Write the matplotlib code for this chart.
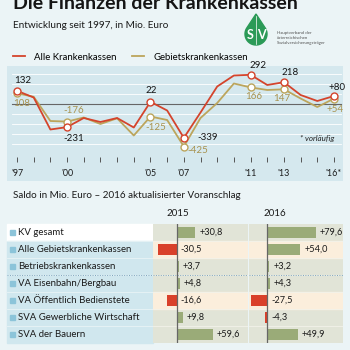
import numpy as np
import matplotlib.pyplot as plt
from matplotlib.patches import Rectangle, Polygon
from matplotlib.lines import Line2D

plt.rcParams['font.family'] = ['Lato', 'DejaVu Sans']

# --- data -----------------------------------------------------------
years = np.arange(1997, 2017)
alle = [132, 65, -255, -231, -140, -180, -140, -235, 22, -65,
        -339, -85, 175, 285, 292, 190, 218, 90, 30, 80]
gebiet = [108, 72, -170, -176, -135, -200, -143, -315, -125, -160,
          -425, -140, 10, 205, 166, 140, 147, 55, -30, 54]
marked_years = [1997, 2000, 2005, 2007, 2011, 2013, 2016]
alle_labels = ['132', '-231', '22', '-339', '292', '218', '+80']
gebiet_labels = ['108', '-176', '-125', '-425', '166', '147', '+54']
tick_years = [1997, 2000, 2005, 2007, 2011, 2013, 2016]
tick_labels = ["'97", "'00", "'05", "'07", "'11", "'13", "'16*"]

traeger = ['KV gesamt', 'Alle Gebietskrankenkassen', 'Betriebskrankenkassen',
           'VA Eisenbahn/Bergbau', 'VA Öffentlich Bedienstete',
           'SVA Gewerbliche Wirtschaft', 'SVA der Bauern']
saldo_2015 = [30.8, -30.5, 3.7, 4.8, -16.6, 9.8, 59.6]
saldo_2016 = [79.6, 54.0, 3.2, 4.3, -27.5, -4.3, 49.9]

RED = '#d4442c'
GOLD = '#bca55c'
GREEN = '#9aab78'
BARRED = '#d9402a'
BG = '#ebf4f6'
PANEL = '#d5e8ee'

W = H = 350
fig = plt.figure(figsize=(3.5, 3.5), dpi=100)
fig.patch.set_facecolor(BG)


def px_axes(x0, y0, x1, y1, **kw):
    return fig.add_axes([x0 / W, 1 - y1 / H, (x1 - x0) / W, (y1 - y0) / H], **kw)


# background / decoration axes in pixel coordinates
bg = px_axes(0, 0, W, H)
bg.set_xlim(0, W)
bg.set_ylim(H, 0)
bg.axis('off')

bg.text(13, 9, 'Die Finanzen der Krankenkassen', fontsize=14,
        fontweight='bold', va='baseline', color='#151515')
bg.text(13, 26, 'Entwicklung seit 1997, in Mio. Euro', fontsize=7.2,
        va='center', color='#1a1a1a')

# logo
cx, cy, r, tip = 256, 34, 11, 14
ang = np.radians(np.linspace(-33.4, 213.4, 60))
pts = [(cx, tip)] + list(zip(cx + r * np.cos(ang), cy + r * np.sin(ang)))
bg.add_patch(Polygon(pts, closed=True, color='#2b9a57'))
bg.plot([cx, cx], [tip + 2, cy + r - 1], color='white', lw=0.5)
bg.text(cx - 5.5, cy + 1, 'S', color='white', fontsize=9, fontweight='bold',
        ha='center', va='center')
bg.text(cx + 5.5, cy + 1, 'V', color='white', fontsize=9, fontweight='bold',
        ha='center', va='center')
for k, t in enumerate(['Hauptverband der', 'österreichischen',
                       'Sozialversicherungsträger']):
    bg.text(277, 33 + 4.8 * k, t, fontsize=3.2, color='#555', va='center')

# --- line chart -----------------------------------------------------
ax = px_axes(7, 66, 343, 181)
ax.set_facecolor(PANEL)
for s in ax.spines.values():
    s.set_visible(False)
ax.set_xticks([])
ax.set_yticks([])
ax.set_xlim(1996.40, 2016.54)
ax.set_ylim(-770, 380)

for v in [-400, -300, -200, -100, 100, 200, 300]:
    ax.plot([1996.7, 2016.4], [v, v], color='white', lw=0.6, zorder=1)
ax.plot([1996.7, 2016.4], [0, 0], color='#666', lw=0.8, zorder=1)
ax.vlines(years, -575, -525, color='#555', lw=0.7)
for yr, lab in zip(tick_years, tick_labels):
    ax.text(yr, -690, lab, fontsize=6.4, ha='center', va='center', color='#1a1a1a')

ax.plot(years, gebiet, color=GOLD, lw=1.3, zorder=3)
ax.plot(years, alle, color=RED, lw=1.3, zorder=4)

idx = [list(years).index(y) for y in marked_years]
ax.plot(marked_years, [gebiet[i] for i in idx], 'o', mfc='white', mec=GOLD,
        mew=1.0, ms=5.0, zorder=5)
ax.plot(marked_years, [alle[i] for i in idx], 'o', mfc='white', mec=RED,
        mew=1.0, ms=5.0, zorder=6)

alle_off = [(6, 10), (7, -11), (1, 11), (24, 0), (7, 9), (6, 10), (3, 8)]
gebiet_off = [(5, -10), (7, 11.5), (5, -11.5), (14, -4), (3, -9), (-2, -9), (1, -10.5)]
for i, lab, off in zip(idx, alle_labels, alle_off):
    ax.annotate(lab, (years[i], alle[i]), xytext=off, textcoords='offset pixels',
                fontsize=7, ha='center', va='center', color='#151515', zorder=7)
for i, lab, off in zip(idx, gebiet_labels, gebiet_off):
    ax.annotate(lab, (years[i], gebiet[i]), xytext=off, textcoords='offset pixels',
                fontsize=7, ha='center', va='center', color='#a89350', zorder=7)
ax.text(2015.0, -340, '* vorläufig', fontsize=5.8, style='italic',
        ha='center', va='center', color='#222')

fig.legend(handles=[Line2D([], [], color=RED, lw=1.3, label='Alle Krankenkassen'),
                    Line2D([], [], color=GOLD, lw=1.3, label='Gebietskrankenkassen')],
           loc='center left', bbox_to_anchor=(13 / W, 1 - 57 / H), ncol=2,
           frameon=False, fontsize=6.9, handlelength=1.3, handletextpad=0.9,
           columnspacing=1.6, borderaxespad=0, borderpad=0)

# --- table ----------------------------------------------------------
bg.text(13, 195, 'Saldo in Mio. Euro \u2013 2016 aktualisierter Voranschlag',
        fontsize=7.1, va='center', color='#1a1a1a')
bg.text(177.5, 213, '2015', fontsize=7, ha='center', va='center', color='#1a1a1a')
bg.text(275, 213, '2016', fontsize=7, ha='center', va='center', color='#1a1a1a')

top, rh = 224, 17
for i, name in enumerate(traeger):
    y0 = top + rh * i
    bg.add_patch(Rectangle((7, y0), 146, rh, color='white' if i == 0 else '#d0e7ee'))
    if i > 0:
        bg.plot([7, 153], [y0, y0], color='#e8f3f6', lw=0.6)
    bg.add_patch(Rectangle((10, y0 + rh / 2 - 2.6), 5.2, 5.2, color='#8cc4d9'))
    bg.text(18.5, y0 + rh / 2, name, fontsize=6.9, va='center', color='#1a1a1a')
bg.plot([7, 153], [top + 3 * rh, top + 3 * rh], color='#7aa3bd', lw=0.7, ls=(0, (1, 1.5)))

scale = 0.61  # px per Mio. Euro
for (x0, x1, zero), vals in [((153, 247.5, 176.7), saldo_2015),
                             ((248.5, 343, 267.3), saldo_2016)]:
    bx = px_axes(x0, top, x1, top + 7 * rh)
    bx.set_xlim((x0 - zero) / scale, (x1 - zero) / scale)
    bx.set_ylim(6.5, -0.5)
    bx.set_facecolor('#e1e4d7')
    for s in bx.spines.values():
        s.set_visible(False)
    bx.set_xticks([])
    bx.set_yticks([])
    for i in (1, 4):
        bx.axhspan(i - 0.5, i + 0.5, color='#fbeedc', zorder=0)
    for i in range(1, 7):
        bx.axhline(i - 0.5, color='#f2f2ea', lw=0.6, zorder=1)
    bx.axhline(2.5, color='#7aa3bd', lw=0.7, ls=(0, (1, 1.5)), zorder=2)
    bx.barh(range(7), vals, height=0.6,
            color=[GREEN if v > 0 else BARRED for v in vals], zorder=3)
    bx.axvline(0, color='#666', lw=0.9, zorder=4)
    for i, v in enumerate(vals):
        bx.annotate(f'{v:+.1f}'.replace('.', ','), (max(v, 0), i), xytext=(4, 0),
                    textcoords='offset pixels', fontsize=6.6, ha='left',
                    va='center', color='#1a1a1a', zorder=5)

fig.savefig('out.png', dpi=100, facecolor=fig.get_facecolor())
